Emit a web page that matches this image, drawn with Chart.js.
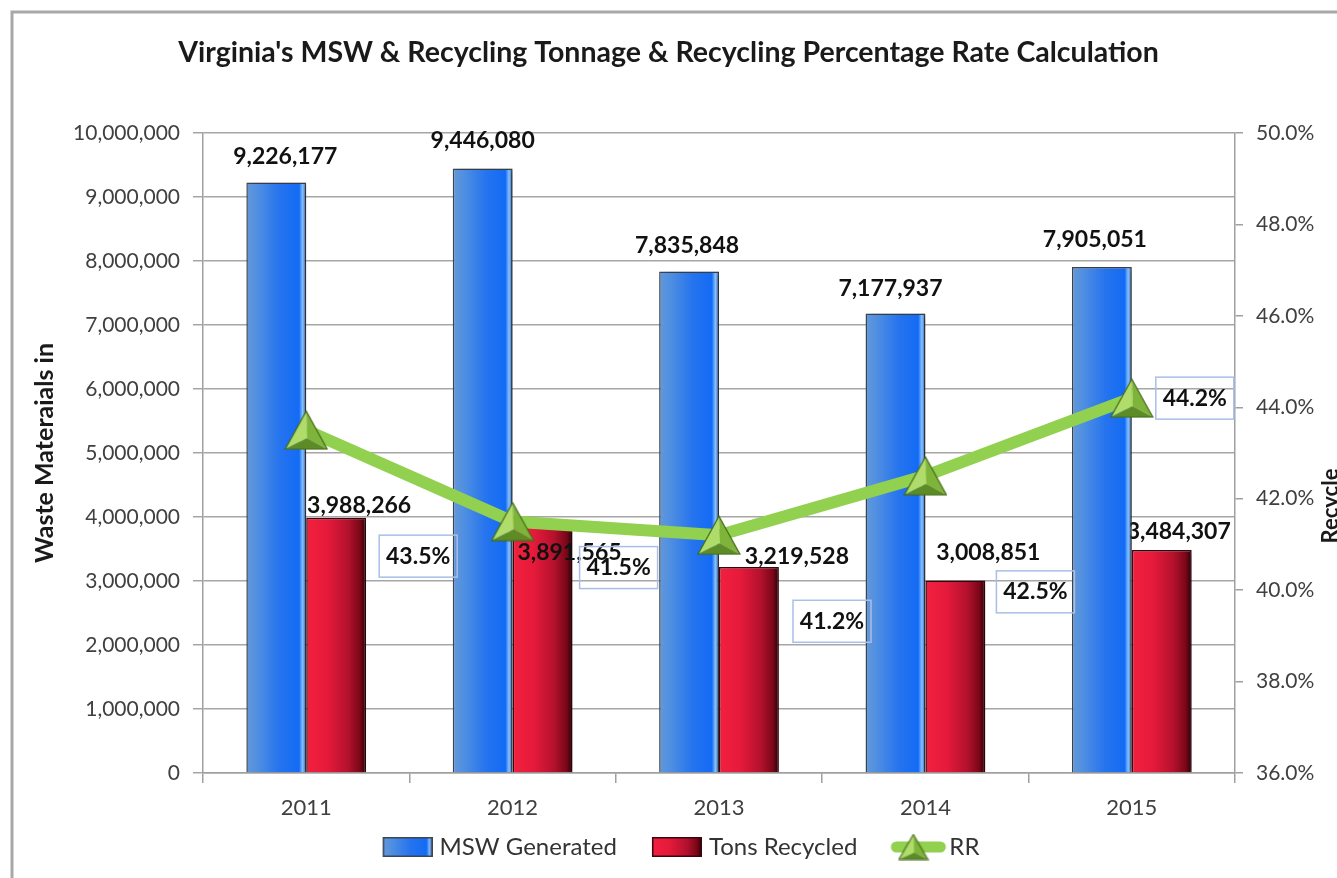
<!DOCTYPE html>
<html>
<head>
<meta charset="utf-8">
<title>Virginia MSW & Recycling</title>
<script src="https://cdn.jsdelivr.net/npm/chart.js@4.4.1/dist/chart.umd.min.js"></script>
<style>
  html, body { margin: 0; padding: 0; background: #fff; }
  #wrap { width: 1337px; height: 878px; position: relative; }
</style>
</head>
<body>
<div id="wrap"><canvas id="mswChart" width="1337" height="878"></canvas></div>
<script>
// Virginia MSW generated vs. recycled tonnage, with recycling rate on a second axis
const years = ["2011", "2012", "2013", "2014", "2015"];
const mswGenerated = [9226177, 9446080, 7835848, 7177937, 7905051];
const tonsRecycled = [3988266, 3891565, 3219528, 3008851, 3484307];
const recycleRate = [43.5, 41.5, 41.2, 42.5, 44.2];

const tonsAxis = { min: 0, max: 10000000, step: 1000000 };
const rateAxis = { min: 36, max: 50, step: 2 };

// hand-placed label nudges [dx, dy] in px
const mswLabelShift = [[9, -26], [0, -28], [-2, -26], [-5, -25], [-7, -27]];
const recycledLabelShift = [[23, -12], [27, 29], [48, -10], [33, -28], [17, -18]];
const rateLabelShift = [[112, 126], [106, 46], [113, 86], [110, 116], [63, 0]];

const FONT = "Lato, 'Open Sans', sans-serif";
const fmt = (v) => v.toLocaleString("en-US");

const blueStops = [[0, "#6498d8"], [0.2, "#4e8ee2"], [0.55, "#2674ee"], [0.88, "#136bf5"], [0.94, "#86c0ff"], [1, "#2a64c0"]];
const redStops = [[0, "#f2203f"], [0.35, "#e61a3b"], [0.7, "#b3112d"], [0.9, "#7a0718"], [1, "#2c0006"]];

function gradientFill(ctx, x0, x1, stops) {
  const g = ctx.createLinearGradient(x0, 0, x1, 0);
  stops.forEach(([o, c]) => g.addColorStop(o, c));
  return g;
}

// shaded pyramid used as the RR marker
function pyramid(w, h) {
  const c = document.createElement("canvas");
  c.width = w; c.height = h;
  const g = c.getContext("2d");
  const A = [w / 2, 1], B = [1, h - 1], C = [w - 1, h - 1], O = [w / 2 + 1, h * 0.7];
  const face = (p, q, r, col) => {
    g.beginPath(); g.moveTo(...p); g.lineTo(...q); g.lineTo(...r); g.closePath();
    g.fillStyle = col; g.fill();
  };
  face(A, B, O, "#afdc6a");
  face(A, O, C, "#7fb43b");
  face(B, C, O, "#5d8c27");
  g.beginPath(); g.moveTo(...A); g.lineTo(...B); g.lineTo(...C); g.closePath();
  g.strokeStyle = "#456b19"; g.lineWidth = 1.2; g.stroke();
  return c;
}

function barIcon(stops, border) {
  const c = document.createElement("canvas");
  c.width = 80; c.height = 24;
  const g = c.getContext("2d");
  g.fillStyle = gradientFill(g, 30, 80, stops);
  g.fillRect(30, 2, 49, 20);
  g.strokeStyle = border; g.lineWidth = 1.5;
  g.strokeRect(30.75, 2.75, 48.5, 18.5);
  return c;
}

function lineIcon() {
  const c = document.createElement("canvas");
  c.width = 90; c.height = 34;
  const g = c.getContext("2d");
  g.strokeStyle = "#92d050"; g.lineWidth = 11; g.lineCap = "round";
  g.beginPath(); g.moveTo(39, 17); g.lineTo(83, 17); g.stroke();
  g.drawImage(pyramid(31, 27), 56 - 15.5, 17 - 13.5);
  return c;
}

const marker = pyramid(44, 40);
const legendIcons = [barIcon(blueStops, "#3c4650"), barIcon(redStops, "#3a0710"), lineIcon()];

const frame = {
  id: "frame",
  beforeDraw(chart) {
    const ctx = chart.ctx;
    ctx.save();
    ctx.strokeStyle = "#a8a8a8";
    ctx.lineWidth = 3;
    ctx.beginPath();
    ctx.moveTo(12, chart.height);
    ctx.lineTo(12, 12);
    ctx.lineTo(chart.width, 12);
    ctx.stroke();
    ctx.restore();
  }
};

const barShading = {
  id: "barShading",
  beforeDatasetDraw(chart, args) {
    const meta = args.meta;
    if (meta.type !== "bar") return;
    const ctx = chart.ctx;
    const stops = meta.index === 0 ? blueStops : redStops;
    meta.data.forEach((el) => {
      const { x, width } = el.getProps(["x", "width"], true);
      el.options.backgroundColor = gradientFill(ctx, x - width / 2, x + width / 2, stops);
    });
    ctx.save();
    ctx.shadowColor = "rgba(0,0,0,0.35)";
    ctx.shadowOffsetX = 4;
    ctx.shadowOffsetY = 1;
    ctx.shadowBlur = 6;
  },
  afterDatasetDraw(chart, args) {
    const meta = args.meta;
    if (meta.type !== "bar") return;
    const ctx = chart.ctx;
    ctx.restore();
    const shift = meta.index === 0 ? mswLabelShift : recycledLabelShift;
    const values = chart.data.datasets[meta.index].data;
    ctx.save();
    ctx.font = "bold 23px " + FONT;
    ctx.fillStyle = "#111";
    ctx.textAlign = "center";
    ctx.textBaseline = "middle";
    meta.data.forEach((el, i) => {
      ctx.fillText(fmt(values[i]), el.x + shift[i][0], el.y + shift[i][1]);
    });
    ctx.restore();
  }
};

const rateLabels = {
  id: "rateLabels",
  afterDatasetsDraw(chart) {
    const meta = chart.getDatasetMeta(2);
    const ctx = chart.ctx;
    ctx.save();
    ctx.font = "bold 23px " + FONT;
    ctx.textAlign = "center";
    ctx.textBaseline = "middle";
    meta.data.forEach((pt, i) => {
      const cx = pt.x + rateLabelShift[i][0];
      const cy = pt.y + rateLabelShift[i][1];
      ctx.strokeStyle = "#a9bfe6";
      ctx.lineWidth = 1.5;
      ctx.strokeRect(cx - 39, cy - 21, 78, 42);
      ctx.fillStyle = "#111";
      ctx.fillText(recycleRate[i].toFixed(1) + "%", cx, cy);
    });
    // right axis title runs off the edge of the frame
    ctx.translate(1331, 506);
    ctx.rotate(-Math.PI / 2);
    ctx.font = "bold 22px " + FONT;
    ctx.fillStyle = "#1a1a1a";
    ctx.fillText("Recycle", 0, 0);
    ctx.restore();
  }
};

Chart.defaults.font.family = FONT;
Chart.defaults.color = "#404040";

new Chart(document.getElementById("mswChart"), {
  data: {
    labels: years,
    datasets: [
      {
        type: "bar",
        label: "MSW Generated",
        data: mswGenerated,
        yAxisID: "y",
        order: 1,
        backgroundColor: () => "#2674ee",
        borderColor: "#3c4650",
        borderWidth: 1.5,
        categoryPercentage: 0.58,
        barPercentage: 1.0
      },
      {
        type: "bar",
        label: "Tons Recycled",
        data: tonsRecycled,
        yAxisID: "y",
        order: 1,
        backgroundColor: () => "#e61a3b",
        borderColor: "#3a0710",
        borderWidth: 1.5,
        categoryPercentage: 0.58,
        barPercentage: 1.0
      },
      {
        type: "line",
        label: "RR",
        data: recycleRate,
        yAxisID: "y2",
        order: 0,
        borderColor: "#92d050",
        borderWidth: 12,
        pointStyle: marker,
        pointRadius: 22,
        tension: 0
      }
    ]
  },
  options: {
    responsive: false,
    animation: false,
    layout: { padding: { left: 0, right: 0, top: 0, bottom: 9 } },
    plugins: {
      tooltip: { enabled: false },
      title: {
        display: true,
        text: "Virginia's MSW & Recycling Tonnage & Recycling Percentage Rate Calculation",
        color: "#1a1a1a",
        font: { size: 28.5, weight: "bold" },
        padding: { top: 36, bottom: 62.8 }
      },
      legend: {
        position: "bottom",
        labels: {
          usePointStyle: true,
          pointStyleWidth: 70,
          padding: 10,
          color: "#333",
          font: { size: 24 },
          generateLabels: (chart) => chart.data.datasets.map((ds, i) => ({
            text: ds.label,
            pointStyle: legendIcons[i],
            fillStyle: "rgba(0,0,0,0)",
            strokeStyle: "rgba(0,0,0,0)",
            lineWidth: 0,
            hidden: false,
            datasetIndex: i,
            fontColor: "#333"
          }))
        }
      }
    },
    scales: {
      x: {
        grid: { offset: true, drawOnChartArea: false, drawTicks: true, tickLength: 10, color: "#a0a0a0", lineWidth: 1.5 },
        border: { color: "#a0a0a0", width: 1.5 },
        ticks: { font: { size: 22 }, padding: 12, color: "#404040" },
        afterFit: (s) => { s.height = 52; }
      },
      y: {
        position: "left",
        min: tonsAxis.min,
        max: tonsAxis.max,
        grid: { color: "#a6a6a6", lineWidth: 1.5, tickLength: 10 },
        border: { color: "#a0a0a0", width: 1.5 },
        ticks: { stepSize: tonsAxis.step, font: { size: 21 }, padding: 13, color: "#404040", callback: (v) => fmt(v) },
        title: { display: true, text: "Waste Materaials in", color: "#1a1a1a", font: { size: 25, weight: "bold" }, padding: { top: 30, bottom: 0 } },
        afterFit: (s) => { s.width = 203; }
      },
      y2: {
        position: "right",
        min: rateAxis.min,
        max: rateAxis.max,
        grid: { drawOnChartArea: false, color: "#a0a0a0", lineWidth: 1.5, tickLength: 8 },
        border: { color: "#a0a0a0", width: 1.5 },
        ticks: { stepSize: rateAxis.step, font: { size: 21 }, padding: 13, color: "#404040", callback: (v) => v.toFixed(1) + "%" },
        afterFit: (s) => { s.width = 102; }
      }
    }
  },
  plugins: [frame, barShading, rateLabels]
});
</script>
</body>
</html>
